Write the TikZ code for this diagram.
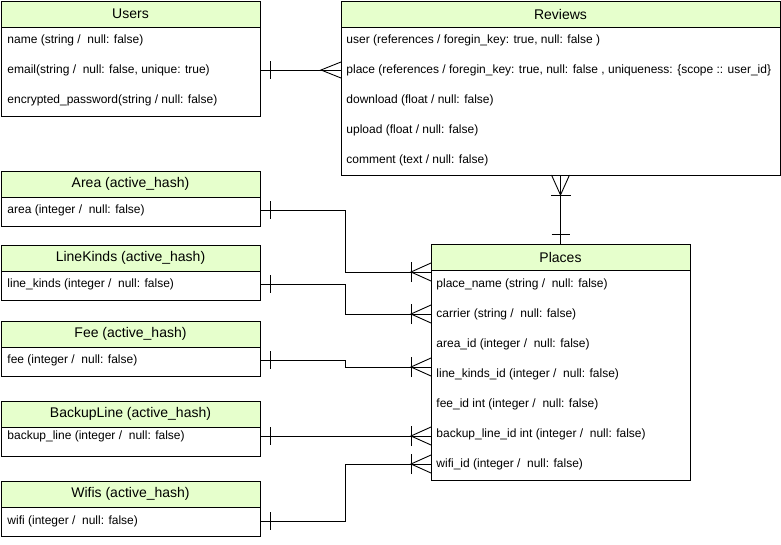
\documentclass[tikz,border=0pt]{standalone}
\usepackage{fontspec}
\setmainfont{Liberation Sans}
\definecolor{hdrgreen}{HTML}{E6FFCC}
\tikzset{
    tbl/.style = {draw, anchor = north west, inner sep = 0pt, outer sep = 0pt},
    hdr/.style = {draw, fill = hdrgreen, anchor = north west, inner sep = 0pt, outer sep = 0pt,
                  minimum height = 26pt, font = \fontsize{14}{16}\selectfont},
    fld/.style = {anchor = west, inner sep = 0pt, font = \fontsize{12}{14}\selectfont},
    onebar/.pic = {\draw (0,-9) -- (0,9);},
    crow/.pic = {\draw (0,8) -- (-20,0) -- (0,-8);},
    crowbar/.pic = {\draw (0,9) -- (-20,0) -- (0,-9); \draw (-20,10) -- (-20,-10);}
}
\begin{document}
\begin{tikzpicture}[x = 1pt, y = -1pt, line width = 0.9pt]
                \useasboundingbox (0, 0) rectangle (781, 544);

                \node[tbl, minimum width = 259pt, minimum height = 115pt] (users) at (1, 1) {};
                \node[hdr, minimum width = 259pt] (usersH) at (1, 1) {Users};
                \node[fld] (uName) at (7, 40) {name (string /\ \ null: false)};
                \node[fld] (uEmail) at (7, 70) {email(string /\ \ null: false, unique: true)};
                \node[fld] (uPass) at (7, 100) {encrypted\_password(string / null: false)};

                \node[tbl, minimum width = 439pt, minimum height = 174pt] (reviews) at (341, 1) {};
                \node[hdr, minimum width = 439pt] (reviewsH) at (341, 1) {Reviews};
                \node[fld] (rUser) at (346, 40) {user (references / foregin\_key: true, null: false )};
                \node[fld] (rPlace) at (346, 70) {place (references / foregin\_key: true, null: false , uniqueness: \{scope :: user\_id\}};
                \node[fld] (rDown) at (346, 100) {download (float / null: false)};
                \node[fld] (rUp) at (346, 130) {upload (float / null: false)};
                \node[fld] (rComment) at (346, 160) {comment (text / null: false)};

                \node[tbl, minimum width = 259pt, minimum height = 55pt] (area) at (1, 171) {};
                \node[hdr, minimum width = 259pt] (areaH) at (1, 171) {Area (active\_hash)};
                \node[fld] (aArea) at (7, 210) {area (integer /\ \ null: false)};

                \node[tbl, minimum width = 259pt, minimum height = 55pt] (lineKinds) at (1, 245) {};
                \node[hdr, minimum width = 259pt] (lineKindsH) at (1, 245) {LineKinds (active\_hash)};
                \node[fld] (lLineKinds) at (7, 284) {line\_kinds (integer /\ \ null: false)};

                \node[tbl, minimum width = 259pt, minimum height = 55pt] (fee) at (1, 321) {};
                \node[hdr, minimum width = 259pt] (feeH) at (1, 321) {Fee (active\_hash)};
                \node[fld] (fFee) at (7, 360) {fee (integer /\ \ null: false)};

                \node[tbl, minimum width = 259pt, minimum height = 55pt] (backupLine) at (1, 401) {};
                \node[hdr, minimum width = 259pt] (backupLineH) at (1, 401) {BackupLine (active\_hash)};
                \node[fld] (bBackupLine) at (7, 436) {backup\_line (integer /\ \ null: false)};

                \node[tbl, minimum width = 259pt, minimum height = 55pt] (wifis) at (1, 481) {};
                \node[hdr, minimum width = 259pt] (wifisH) at (1, 481) {Wifis (active\_hash)};
                \node[fld] (wWifi) at (7, 521) {wifi (integer /\ \ null: false)};

                \node[tbl, minimum width = 259pt, minimum height = 236pt] (places) at (431, 244) {};
                \node[hdr, minimum width = 259pt] (placesH) at (431, 244) {Places};
                \node[fld] (pName) at (436, 284) {place\_name (string /\ \ null: false)};
                \node[fld] (pCarrier) at (436, 314) {carrier (string /\ \ null: false)};
                \node[fld] (pArea) at (436, 344) {area\_id (integer /\ \ null: false)};
                \node[fld] (pLineKinds) at (436, 374) {line\_kinds\_id (integer /\ \ null: false)};
                \node[fld] (pFee) at (436, 404) {fee\_id int (integer /\ \ null: false)};
                \node[fld] (pBackupLine) at (436, 434) {backup\_line\_id int (integer /\ \ null: false)};
                \node[fld] (pWifi) at (436, 464) {wifi\_id (integer /\ \ null: false)};

                \draw (users.east |- uEmail) to (reviews.west |- rPlace);
                \pic at ([xshift = 10pt]users.east |- uEmail) {onebar};
                \pic at (reviews.west |- rPlace) {crow};

                \draw (reviews.south) to (placesH.north);
                \pic[rotate = 90] at (reviews.south) {crowbar};
                \pic[rotate = 90] at ([yshift = 10pt]placesH.north) {onebar};

                \draw (area.east |- aArea) -- ++(85, 0) |- ([yshift = -2pt]placesH.south west);
                \pic at ([xshift = 10pt]area.east |- aArea) {onebar};
                \pic at ([yshift = -2pt]placesH.south west) {crowbar};

                \draw (lineKinds.east |- lLineKinds) -- ++(85, 0) |- (places.west |- pCarrier);
                \pic at ([xshift = 10pt]lineKinds.east |- lLineKinds) {onebar};
                \pic at (places.west |- pCarrier) {crowbar};

                \draw (fee.east |- fFee) -- ++(85, 0) |- ([yshift = 7pt]places.west |- pLineKinds);
                \pic at ([xshift = 10pt]fee.east |- fFee) {onebar};
                \pic at ([yshift = 7pt]places.west |- pLineKinds) {crowbar};

                \draw (backupLine.east |- bBackupLine) to (places.west |- bBackupLine);
                \pic at ([xshift = 10pt]backupLine.east |- bBackupLine) {onebar};
                \pic at (places.west |- bBackupLine) {crowbar};

                \draw (wifis.east |- wWifi) -- ++(85, 0) |- (places.west |- pWifi);
                \pic at ([xshift = 10pt]wifis.east |- wWifi) {onebar};
                \pic at (places.west |- pWifi) {crowbar};
            \end{tikzpicture}
\end{document}
